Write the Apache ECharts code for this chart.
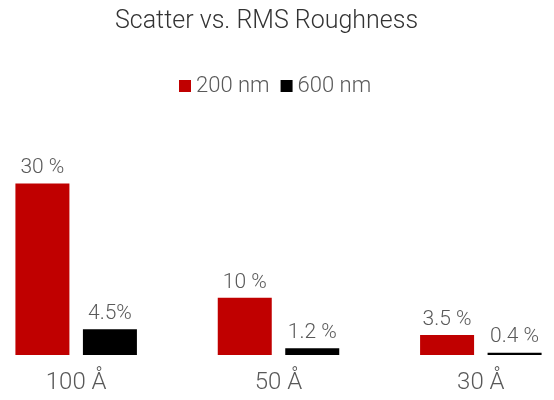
<!DOCTYPE html>
<html>
<head>
<meta charset="utf-8">
<script src="https://cdn.jsdelivr.net/npm/echarts@6/dist/echarts.min.js"></script>
<style>
body{margin:0;background:#fff;}
#main{width:554px;height:400px;}
</style>
</head>
<body>
<div id="main"></div>
<script>
var categories = ['100 Å', '50 Å', '30 Å'];
var seriesNames = ['200 nm', '600 nm'];
var values200 = [30, 10, 3.5];
var values600 = [4.5, 1.2, 0.4];
var labels200 = ['30 %', '10 %', '3.5 %'];
var labels600 = ['4.5%', '1.2 %', '0.4 %'];

window.onload = function () {
	makeimage();
}

function makeimage(){
	var myChart = echarts.init(document.getElementById('main'));
	var textColor = '#595959';
	var font = 'Roboto';
	myChart.setOption({
		animation: false,
		title : {
			text: 'Scatter vs. RMS Roughness',
			left: 110,
			top: 4,
			textStyle: {fontFamily: font, fontWeight: 300, fontSize: 25, color: '#333333'}
		},
		legend: {
			top: 70,
			left: 174,
			icon: 'rect',
			itemWidth: 12,
			itemHeight: 12,
			itemGap: 11,
			data: seriesNames,
			textStyle: {fontFamily: font, fontWeight: 300, fontSize: 22, color: textColor}
		},
		grid: {left: -25, right: -28, top: 155, bottom: 45, outerBoundsMode: 'none'},
		xAxis: {
			type: 'category',
			data: categories,
			axisLine: {show: false},
			axisTick: {show: false},
			axisLabel: {margin: 16, fontFamily: font, fontWeight: 300, fontSize: 24, color: textColor}
		},
		yAxis: {
			type: 'value',
			min: 0,
			max: 35,
			show: false,
			splitLine: {show: false}
		},
		series : [
			{
				name: seriesNames[0],
				type: 'bar',
				data: values200,
				barWidth: 54,
				barGap: '25%',
				itemStyle: {color: '#C00000'},
				label: {
					show: true, position: 'top', distance: 5,
					formatter: function (p) { return labels200[p.dataIndex]; },
					fontFamily: font, fontWeight: 300, fontSize: 21, color: textColor
				}
			},
			{
				name: seriesNames[1],
				type: 'bar',
				data: values600,
				barWidth: 54,
				barGap: '25%',
				itemStyle: {color: '#000000'},
				label: {
					show: true, position: 'top', distance: 5,
					formatter: function (p) { return labels600[p.dataIndex]; },
					fontFamily: font, fontWeight: 300, fontSize: 21, color: textColor
				}
			}
		]
	})
}
</script>
</body>
</html>
